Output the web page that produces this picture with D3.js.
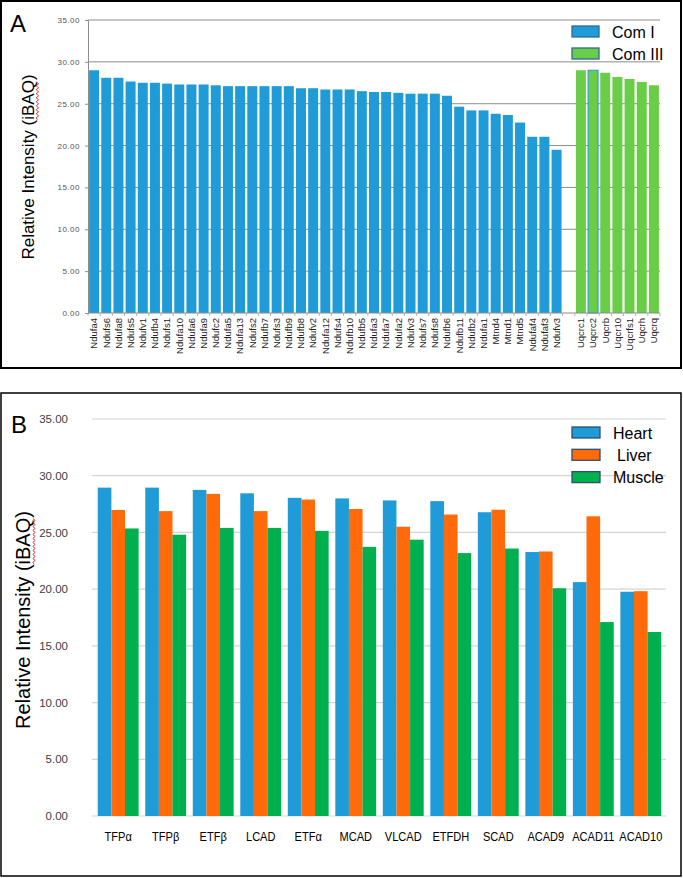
<!DOCTYPE html>
<html>
<head>
<meta charset="utf-8">
<script src="https://cdn.jsdelivr.net/npm/d3@7"></script>
<style>
  body { margin: 0; background: #fff; }
  svg { display: block; }
  text { font-family: "Liberation Sans", Arial, sans-serif; }
</style>
</head>
<body>
<svg id="chart" width="683" height="878"></svg>
<script>
// ---------------- DATA ----------------
// Panel A: Complex I subunits
const comICategories = ["Ndufa4","Ndufs6","Ndufa8","Ndufs5","Ndufv1","Ndufb4","Ndufs1","Ndufa10","Ndufa6","Ndufa9",
  "Ndufc2","Ndufa5","Ndufa13","Ndufs2","Ndufb7","Ndufs3","Ndufb9","Ndufb8","Ndufv2","Ndufa12",
  "Ndufs4","Ndufb10","Ndufb5","Ndufa3","Ndufa7","Ndufa2","Ndufv3","Ndufs7","Ndufs8","Ndufb6",
  "Ndufb11","Ndufb2","Ndufa1","Mtnd4","Mtnd1","Mtnd5","Ndufaf4","Ndufaf3","Ndufv3"];
const comIValues = [29.0, 28.1, 28.1, 27.65, 27.5, 27.5, 27.4, 27.3, 27.3, 27.3,
  27.2, 27.1, 27.1, 27.1, 27.1, 27.1, 27.1, 26.85, 26.85, 26.7,
  26.7, 26.7, 26.5, 26.4, 26.4, 26.3, 26.2, 26.2, 26.2, 25.95,
  24.65, 24.2, 24.2, 23.8, 23.65, 22.75, 21.05, 21.05, 19.5];
// Panel A: Complex III subunits
const comIIICategories = ["Uqcrc1","Uqcrc2","Uqcrb","Uqcr10","Uqcrfs1","Uqcrh","Uqcrq"];
const comIIIValues = [29.0, 29.0, 28.7, 28.2, 27.95, 27.6, 27.2];
const panelASeries = ["Com I", "Com III"];
const panelATicks = [0, 5, 10, 15, 20, 25, 30, 35];

// Panel B: fatty acid oxidation enzymes
const enzymeCategories = ["TFPα","TFPβ","ETFβ","LCAD","ETFα","MCAD","VLCAD","ETFDH","SCAD","ACAD9","ACAD11","ACAD10"];
const tissueSeries = ["Heart", "Liver", "Muscle"];
const heartValues  = [28.95, 28.95, 28.75, 28.45, 28.05, 28.0, 27.82, 27.76, 26.78, 23.27, 20.62, 19.77];
const liverValues  = [26.98, 26.88, 28.4, 26.88, 27.9, 27.07, 25.5, 26.58, 27.0, 23.32, 26.42, 19.82];
const muscleValues = [25.35, 24.8, 25.4, 25.4, 25.14, 23.73, 24.36, 23.18, 23.58, 20.08, 17.1, 16.22];
const panelBTicks = [0, 5, 10, 15, 20, 25, 30, 35];
const yTitle = "Relative Intensity (iBAQ)";

// ---------------- DRAW ----------------
const svg = d3.select("#chart");
const fmt = d3.format(".2f");

// panel frames
svg.append("rect").attr("x", 1).attr("y", 1).attr("width", 680).attr("height", 367)
  .attr("fill", "none").attr("stroke", "#000").attr("stroke-width", 2);
svg.append("rect").attr("x", 1).attr("y", 393).attr("width", 680).attr("height", 483)
  .attr("fill", "none").attr("stroke", "#000").attr("stroke-width", 1.5);

function addTitle(g, cx, cy, size) {
  const t = g.append("text")
    .attr("transform", `translate(${cx},${cy}) rotate(-90)`)
    .attr("text-anchor", "middle")
    .attr("font-size", size)
    .attr("fill", "#000")
    .text(yTitle);
  // red spell-check squiggle under "iBAQ"
  const node = t.node();
  const start = yTitle.indexOf("iBAQ");
  const p0 = node.getStartPositionOfChar(start);
  const p1 = node.getEndPositionOfChar(start + 3);
  const yy = p0.y + size * 0.2;
  let d = `M${p0.x},${yy}`;
  let up = true;
  for (let x = p0.x + 2; x <= p1.x; x += 2) {
    d += `L${x},${yy + (up ? -1.2 : 1.2)}`;
    up = !up;
  }
  g.append("path")
    .attr("transform", `translate(${cx},${cy}) rotate(-90)`)
    .attr("d", d).attr("fill", "none").attr("stroke", "#e02020").attr("stroke-width", 0.9);
}

// ===== Panel A =====
const gA = svg.append("g");
const aKeys = [
  ...comICategories.map((c, i) => "I" + i),
  "gap",
  ...comIIICategories.map((c, i) => "III" + i)
];
const aLabels = [...comICategories, "", ...comIIICategories];
const aData = [
  ...comICategories.map((c, i) => ({ key: "I" + i, name: c, value: comIValues[i], series: "Com I" })),
  ...comIIICategories.map((c, i) => ({ key: "III" + i, name: c, value: comIIIValues[i], series: "Com III" }))
];
const aX = d3.scaleBand().domain(aKeys).range([88, 660]).paddingInner(0.18).paddingOuter(0.09);
const aY = d3.scaleLinear().domain([0, 35]).range([313, 20]);
const aColor = d3.scaleOrdinal().domain(panelASeries).range(["#1f9bd7", "#6acd47"]);

gA.append("text").attr("x", 10).attr("y", 32).attr("font-size", 24).text("A");

// gridlines
gA.selectAll(".gridA").data(panelATicks.filter(t => t > 0)).join("line")
  .attr("x1", 88).attr("x2", 660)
  .attr("y1", d => aY(d)).attr("y2", d => aY(d))
  .attr("stroke", "#8c8c8c").attr("stroke-width", 1);

// y axis
const aAxis = gA.append("g").attr("transform", "translate(88,0)")
  .call(d3.axisLeft(aY).tickValues(panelATicks).tickFormat(fmt).tickSize(3).tickPadding(5));
aAxis.select(".domain").attr("stroke", "#8c8c8c");
aAxis.selectAll(".tick line").attr("stroke", "#8c8c8c");
aAxis.selectAll(".tick text").attr("font-size", 8).attr("letter-spacing", 0.5).attr("fill", "#555")
  .attr("font-family", "'Liberation Sans', Arial, sans-serif");

// bars
gA.selectAll(".barA").data(aData).join("rect")
  .attr("x", d => aX(d.key))
  .attr("width", aX.bandwidth())
  .attr("y", d => aY(d.value))
  .attr("height", d => aY(0) - aY(d.value))
  .attr("fill", d => aColor(d.series))
  .attr("stroke", d => d.name === "Uqcrc2" ? "#1f9bd7" : "none")
  .attr("stroke-width", 1);

// x axis line + ticks
gA.append("line").attr("x1", 88).attr("x2", 660).attr("y1", aY(0)).attr("y2", aY(0))
  .attr("stroke", "#8c8c8c");
const aBounds = aKeys.map(k => aX(k) - (aX.step() - aX.bandwidth()) / 2).concat([660]);
gA.selectAll(".tickA").data(aBounds).join("line")
  .attr("x1", d => d).attr("x2", d => d).attr("y1", aY(0)).attr("y2", aY(0) + 3)
  .attr("stroke", "#b89c80").attr("stroke-width", 0.8);

// x labels
gA.selectAll(".labA").data(aKeys).join("text")
  .attr("transform", (k) => `translate(${aX(k) + aX.bandwidth() / 2},318) rotate(-90)`)
  .attr("text-anchor", "end")
  .attr("dy", "0.35em")
  .attr("font-size", 9.5)
  .attr("fill", "#222")
  .text((k, i) => aLabels[i]);

addTitle(gA, 34, 167, 17);

// legend A
const legA = gA.selectAll(".legA").data(panelASeries).join("g")
  .attr("transform", (d, i) => `translate(572,${26 + i * 22})`);
legA.append("rect").attr("width", 27).attr("height", 11)
  .attr("fill", d => aColor(d)).attr("stroke", "#2d6b96").attr("stroke-width", 1.3);
legA.append("text").attr("x", 40).attr("y", 11.5).attr("font-size", 16).text(d => d);

// ===== Panel B =====
const gB = svg.append("g");
const bX0 = d3.scaleBand().domain(enzymeCategories).range([93, 666]).paddingInner(0.14).paddingOuter(0.1);
const bX1 = d3.scaleBand().domain(tissueSeries).range([0, bX0.bandwidth()]);
const bY = d3.scaleLinear().domain([0, 35]).range([816, 419]);
const bColor = d3.scaleOrdinal().domain(tissueSeries).range(["#1f9bd7", "#ff6a0a", "#00b04f"]);
const seriesValues = { Heart: heartValues, Liver: liverValues, Muscle: muscleValues };

gB.append("text").attr("x", 11).attr("y", 433).attr("font-size", 24).text("B");

gB.selectAll(".gridB").data(panelBTicks).join("line")
  .attr("x1", 92).attr("x2", 666)
  .attr("y1", d => bY(d)).attr("y2", d => bY(d))
  .attr("stroke", "#d4d4d4").attr("stroke-width", 1.2);

const bAxis = gB.append("g").attr("transform", "translate(92,0)")
  .call(d3.axisLeft(bY).tickValues(panelBTicks).tickFormat(fmt).tickSize(0).tickPadding(24));
bAxis.select(".domain").remove();
bAxis.selectAll(".tick text").attr("font-size", 11.5).attr("fill", "#404040")
  .attr("font-family", "'Liberation Sans', Arial, sans-serif");

const groups = gB.selectAll(".grpB").data(enzymeCategories).join("g")
  .attr("transform", d => `translate(${bX0(d)},0)`);
groups.selectAll("rect").data((d, i) => tissueSeries.map(s => ({ s, v: seriesValues[s][i] }))).join("rect")
  .attr("x", d => bX1(d.s))
  .attr("width", bX1.bandwidth())
  .attr("y", d => bY(d.v))
  .attr("height", d => bY(0) - bY(d.v))
  .attr("fill", d => bColor(d.s));

gB.selectAll(".labB").data(enzymeCategories).join("text")
  .attr("transform", d => `translate(${bX0(d) + bX0.bandwidth() / 2},841) scale(0.85,1)`)
  .attr("text-anchor", "middle")
  .attr("font-size", 13)
  .attr("fill", "#000")
  .text(d => d);

addTitle(gB, 30, 620, 20);

const legB = gB.selectAll(".legB").data(tissueSeries).join("g")
  .attr("transform", (d, i) => `translate(572,${427 + i * 22.3})`);
legB.append("rect").attr("width", 28).attr("height", 11)
  .attr("fill", d => bColor(d)).attr("stroke", "#2f4f6f").attr("stroke-width", 1.3);
legB.append("text").attr("x", d => d === "Liver" ? 45 : 41).attr("y", 11.5).attr("font-size", 16).text(d => d);
</script>
</body>
</html>
